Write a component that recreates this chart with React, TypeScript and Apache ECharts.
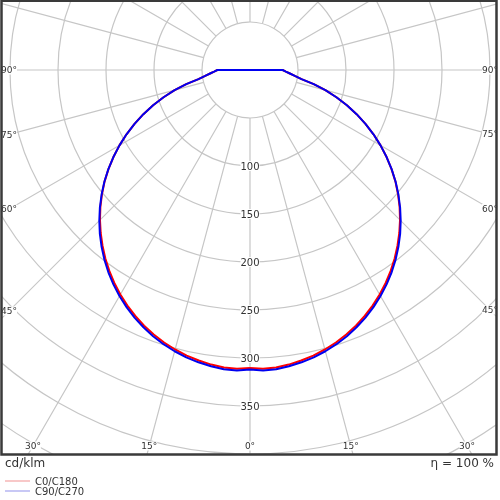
import React, { useEffect, useRef } from "react";
import * as echarts from "echarts";

// ---- data ----
const gammaDeg = [
  0, 2.5, 5, 7.5, 10, 12.5, 15, 17.5, 20, 22.5, 25, 27.5, 30, 32.5, 35, 37.5, 40, 42.5, 45,
  47.5, 50, 52.5, 55, 57.5, 60, 62.5, 65, 67.5, 70, 72.5, 75, 77.5, 80, 82.5, 85, 87.5, 90,
];
const c0c180 = [
  310.3, 311.5, 311, 309.5, 307.3, 304.7, 301.4, 297.6, 293.2, 288.2, 282.7, 276.6, 270.1, 263, 255.5,
  247.5, 239, 230.2, 221, 211.4, 201.3, 191, 180, 168.7, 157, 145, 132.7, 120.2, 107.4, 94.4, 81.3,
  68, 54.5, 47.1, 41.7, 37.4, 34,
];
const c90c270 = [
  312, 313.3, 313, 311.3, 309.2, 306.6, 303.3, 299.5, 295.1, 290.1, 284.6, 278.5, 271.9, 264.8, 257.2,
  249.1, 240.5, 231.5, 222, 212.1, 201.8, 191.2, 180.1, 168.7, 157, 145, 132.7, 120.2, 107.4, 94.4,
  81.3, 68, 54.5, 47.1, 41.7, 37.4, 34,
];
const seriesNames = ["C0/C180", "C90/C270"];
const seriesColors = ["#ff0000", "#0000f0"];
const legendColors = ["#f4a3a3", "#a3a3ee"];
const radiusTickLabels = [100, 150, 200, 250, 300, 350];
const angleTickLabels = [90, 75, 60, 45, 30, 15, 0];
const unitLabel = "cd/klm";
const efficiencyLabel = "η = 100 %";

// ---- layout ----
const CX = 250;
const CY = 70;
const R_OUT = 480; // pixel radius of value 500
const R_MAX = 500;
const PX = R_OUT / R_MAX;
const BOX = { left: 1.5, top: 0.75, right: 496.5, bottom: 454.5 };
const FONT = "DejaVu Sans";
const TEXT = "#333333";
const GRID = "#c6c6c6";

function toPolar(values: number[]) {
  const left = gammaDeg.map((g, i) => [values[i], g]);
  const right = gammaDeg
    .map((g, i) => [values[i], 360 - g])
    .reverse();
  return [...left, [0, 180], ...right];
}

function angleLabelPos(g: number, side: number) {
  const rad = (g * Math.PI) / 180;
  const dx = side * Math.sin(rad);
  const dy = Math.cos(rad);
  let t = Infinity;
  if (Math.abs(dx) > 1e-6) {
    const lim = side < 0 ? CX - 9 : 490 - CX;
    t = Math.min(t, lim / Math.abs(dx));
  }
  if (dy > 1e-6) t = Math.min(t, (446 - CY) / dy);
  return [CX + t * dx, CY + t * dy];
}

export default function App() {
  const ref = useRef<HTMLDivElement>(null);
  useEffect(() => {
    const chart = echarts.init(ref.current!, null, { renderer: "svg" });

    const angleTexts: any[] = [];
    angleTickLabels.forEach((g) => {
      const sides = g === 0 ? [1] : [-1, 1];
      sides.forEach((s) => {
        const [x, y] = angleLabelPos(g, s);
        angleTexts.push({
          type: "text",
          x,
          y,
          z: 60,
          style: {
            text: `${g}°`,
            fontFamily: FONT,
            fontSize: 9,
            fill: TEXT,
            align: "center",
            verticalAlign: "middle",
            backgroundColor: "#fff",
          },
        });
      });
    });

    const option: any = {
      animation: false,
      textStyle: { fontFamily: FONT },
      polar: [
        { center: [CX, CY], radius: [50 * PX, R_OUT] },
        { center: [CX, CY], radius: [0, R_OUT] },
      ],
      angleAxis: [
        {
          polarIndex: 0,
          type: "value",
          min: 0,
          max: 360,
          interval: 15,
          startAngle: 270,
          clockwise: true,
          axisLine: { show: false },
          axisTick: { show: false },
          axisLabel: { show: false },
          splitLine: { show: true, lineStyle: { color: GRID, width: 1.2 } },
        },
        {
          polarIndex: 1,
          type: "value",
          min: 0,
          max: 360,
          interval: 15,
          startAngle: 270,
          clockwise: true,
          axisLine: { show: false },
          axisTick: { show: false },
          axisLabel: { show: false },
          splitLine: { show: false },
        },
      ],
      radiusAxis: [
        {
          polarIndex: 0,
          type: "value",
          min: 50,
          max: R_MAX,
          interval: 50,
          axisLine: { show: false },
          axisTick: { show: false },
          splitLine: { show: true, lineStyle: { color: GRID, width: 1.2 } },
          axisLabel: {
            show: true,
            margin: 0,
            align: "center",
            verticalAlign: "middle",
            fontSize: 10,
            color: TEXT,
            fontFamily: FONT,
            backgroundColor: "#fff",
            formatter: (v: number) => (radiusTickLabels.includes(v) ? String(v) : ""),
          },
          z: 3,
        },
        {
          polarIndex: 1,
          type: "value",
          min: 0,
          max: R_MAX,
          axisLine: { show: false },
          axisTick: { show: false },
          axisLabel: { show: false },
          splitLine: { show: false },
        },
      ],
      legend: {
        orient: "vertical",
        left: 5,
        top: 476,
        padding: 0,
        itemGap: 0,
        itemWidth: 25,
        itemHeight: 10,
        z: 80,
        icon: "path://M0,0 L25,0 L25,1.2 L0,1.2 Z",
        textStyle: { fontSize: 10, color: TEXT, fontFamily: FONT, lineHeight: 10 },
        data: seriesNames.map((n, i) => ({
          name: n,
          itemStyle: { color: legendColors[i], borderWidth: 0 },
        })),
      },
      series: [
        {
          name: seriesNames[0],
          type: "line",
          coordinateSystem: "polar",
          polarIndex: 1,
          data: toPolar(c0c180),
          symbol: "none",
          lineStyle: { color: seriesColors[0], width: 2 },
          itemStyle: { color: seriesColors[0] },
          z: 5,
        },
        {
          name: seriesNames[1],
          type: "line",
          coordinateSystem: "polar",
          polarIndex: 1,
          data: toPolar(c90c270),
          symbol: "none",
          lineStyle: { color: seriesColors[1], width: 2 },
          itemStyle: { color: seriesColors[1] },
          z: 6,
        },
      ],
      graphic: [
        // white masks clipping the grid to the frame
        { type: "rect", z: 50, shape: { x: 0, y: BOX.bottom, width: 500, height: 500 - BOX.bottom }, style: { fill: "#fff" } },
        { type: "rect", z: 50, shape: { x: 0, y: 0, width: BOX.left, height: 500 }, style: { fill: "#fff" } },
        { type: "rect", z: 50, shape: { x: BOX.right, y: 0, width: 500 - BOX.right, height: 500 }, style: { fill: "#fff" } },
        ...angleTexts,
        {
          type: "rect",
          z: 70,
          shape: { x: BOX.left, y: BOX.top, width: BOX.right - BOX.left, height: BOX.bottom - BOX.top },
          style: { fill: "none", stroke: "#3a3a3a", lineWidth: 2.5 },
        },
        {
          type: "text",
          z: 70,
          x: 5,
          y: 463,
          style: { text: unitLabel, fontFamily: FONT, fontSize: 12, fill: TEXT, align: "left", verticalAlign: "middle" },
        },
        {
          type: "text",
          z: 70,
          x: 494,
          y: 463,
          style: { text: efficiencyLabel, fontFamily: FONT, fontSize: 12, fill: TEXT, align: "right", verticalAlign: "middle" },
        },
      ],
    };

    chart.setOption(option);
    return () => chart.dispose();
  }, []);

  return (
    <div
      ref={ref}
      style={{ position: "fixed", left: 0, top: 0, width: 500, height: 500 }}
    />
  );
}
